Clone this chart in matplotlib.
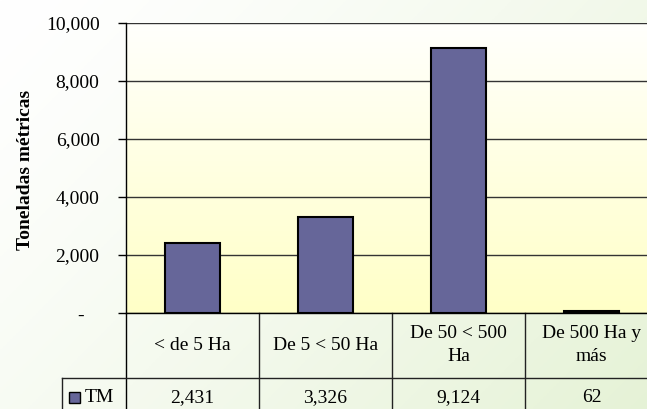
import matplotlib
import matplotlib.pyplot as plt
import numpy as np
from matplotlib.lines import Line2D
from matplotlib.ticker import FuncFormatter
from matplotlib.transforms import blended_transform_factory

matplotlib.use("Agg")

categories = ["< de 5 Ha", "De 5 < 50 Ha", "De 50 < 500\nHa", "De 500 Ha y\nmás"]
tm_values = [2431, 3326, 9124, 62]
value_labels = ["2,431", "3,326", "9,124", "62"]
series_name = "TM"
y_ticks = [0, 2000, 4000, 6000, 8000, 10000]

BAR_COLOR = "#666699"
SERIF = ["Liberation Serif", "DejaVu Serif"]

plt.rcParams["font.family"] = SERIF

fig = plt.figure(figsize=(6.47, 4.09), dpi=100)

# figure background: white on the left, pale green towards bottom-right
bg = fig.add_axes([0, 0, 1, 1], zorder=-10)
gx, gy = np.meshgrid(np.linspace(0, 1, 200), np.linspace(0, 1, 200))
t = np.clip((gx * 0.8 + (1 - gy) * 0.5) / 1.3, 0, 1) ** 1.3
c0 = np.array([1.0, 1.0, 1.0])
c1 = np.array([0.90, 0.95, 0.84])
img = c0[None, None, :] * (1 - t[..., None]) + c1[None, None, :] * t[..., None]
bg.imshow(img, extent=[0, 1, 0, 1], origin="lower", aspect="auto")
bg.set_axis_off()

ax = fig.add_axes([126 / 647, 96 / 409, 532 / 647, 290 / 409])
ax.set_xlim(-0.5, 3.5)
ax.set_ylim(0, 10000)

# plot area gradient: white at top, pale yellow at bottom
grad = np.linspace(0, 1, 256)[:, None]
top = np.array([1.0, 1.0, 0.99])
bot = np.array([1.0, 1.0, 0.78])
pimg = bot[None, None, :] * (1 - grad[..., None]) + top[None, None, :] * grad[..., None]
ax.imshow(pimg, extent=[-0.5, 3.5, 0, 10000], origin="lower", aspect="auto", zorder=0)

x = np.arange(len(categories))
ax.bar(x, tm_values, width=0.41, color=BAR_COLOR, edgecolor="black", linewidth=1.5, zorder=3)

ax.set_yticks(y_ticks)
ax.yaxis.set_major_formatter(
    FuncFormatter(lambda v, p: "-   " if v == 0 else f"{int(v):,}")
)
ax.tick_params(axis="y", direction="out", length=6, width=1, pad=13, labelsize=14)
ax.set_xticks([])
ax.grid(axis="y", color="#333333", linewidth=1, zorder=1)
for side in ["top", "right"]:
    ax.spines[side].set_visible(False)
ax.spines["left"].set_linewidth(1)
ax.spines["bottom"].set_linewidth(1)
ax.spines["left"].set_zorder(4)
ax.spines["bottom"].set_zorder(4)

fig.text(26 / 647, 1 - 170 / 409, "Toneladas métricas", rotation=90,
         ha="center", va="center", fontsize=14, fontweight="bold")

# data table under the axis
tr = blended_transform_factory(ax.transData, ax.transAxes)
row_y = -65 / 290
bottom_y = -1.0
for bx in [0.5, 1.5, 2.5]:
    ax.add_line(Line2D([bx, bx], [0, bottom_y], transform=tr, color="#222222",
                       linewidth=1, clip_on=False))
ax.add_line(Line2D([-0.5, -0.5], [0, bottom_y], transform=tr, color="black",
                   linewidth=1, clip_on=False))
ax.add_line(Line2D([-0.5 - 64 / 133, 3.5], [row_y, row_y], transform=tr,
                   color="#222222", linewidth=1, clip_on=False))
ax.add_line(Line2D([-0.5 - 64 / 133, -0.5 - 64 / 133], [row_y, bottom_y], transform=tr,
                   color="#222222", linewidth=1, clip_on=False))

for i, (cat, lab) in enumerate(zip(categories, value_labels)):
    ax.text(i, -32 / 290, cat, transform=tr, ha="center", va="center",
            fontsize=14, linespacing=1.45, clip_on=False)
    ax.text(i, -85 / 290, lab, transform=tr, ha="center", va="center",
            fontsize=14, clip_on=False)

# legend key in row header
ax.add_patch(plt.Rectangle((-0.5 - 57 / 133, -90 / 290), 11 / 133, 11 / 290,
                           transform=tr, facecolor=BAR_COLOR, edgecolor="black",
                           linewidth=1, clip_on=False, zorder=5))
ax.text(-0.5 - 41 / 133, -85 / 290, series_name, transform=tr, ha="left", va="center",
        fontsize=14, clip_on=False)

fig.savefig("out.png", dpi=100)
